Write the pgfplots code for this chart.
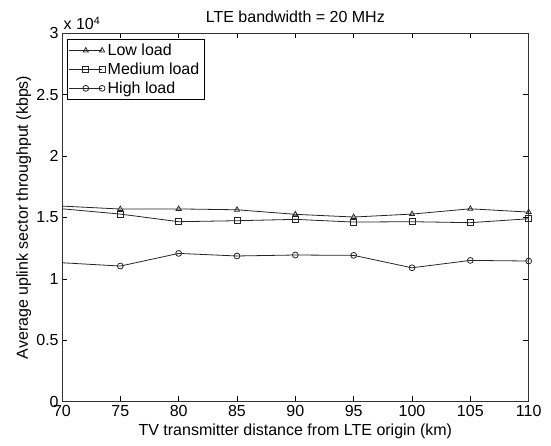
\documentclass[border=0pt]{standalone}
\usepackage{fontspec}
\setmainfont{Liberation Sans}
\usepackage{pgfplots}
\pgfplotsset{compat=1.18}
\usetikzlibrary{calc}
\begin{document}
\begin{tikzpicture}
\begin{axis}[
  scale only axis, width=350pt, height=276.5pt,
  clip mode=individual,
  xmin=70, xmax=110, ymin=0, ymax=30000,
  xtick={70,75,...,110},
  ytick={0,5000,10000,15000,20000,25000,30000},
  yticklabels={0,0.5,1,1.5,2,2.5,3},
  scaled y ticks=false,
  /pgf/number format/assume math mode=true,
  tick align=inside, major tick length=4pt,
  tick style={black, line width=0.5pt},
  axis line style={black!80, line width=0.6pt},
  tick label style={font=\fontsize{12}{14}\selectfont},
  label style={font=\fontsize{12}{14}\selectfont},
  xticklabel style={yshift=1pt},
  yticklabel style={xshift=1pt},
  title={LTE bandwidth = 20 MHz},
  title style={font=\fontsize{12}{14}\selectfont, yshift=-2pt},
  xlabel={TV transmitter distance from LTE origin (km)},
  ylabel={Average uplink sector throughput (kbps)},
  xlabel style={yshift=1pt},
  ylabel style={yshift=-3pt},
  legend style={at={(rel axis cs:0.01,0.985)}, anchor=north west,
    draw=black, line width=0.6pt, font=\fontsize{12}{14}\selectfont,
    inner sep=1.5pt, row sep=0pt, legend cell align=left},
  legend image code/.code={
    \draw[mark repeat=2, mark phase=2] plot coordinates {(0cm,0cm) (0.43cm,0cm) (0.86cm,0cm)};},
  every axis plot/.append style={black!85, line width=0.6pt, mark size=2.2pt},
]
\addplot[mark=triangle, mark indices={2,3,4,5,6,7,8,9}] coordinates
  {(70,15920) (75,15680) (80,15690) (85,15620) (90,15250) (95,15030) (100,15270) (105,15700) (110,15430)};
\addplot[mark=square, mark indices={2,3,4,5,6,7,8,9}] coordinates
  {(70,15700) (75,15270) (80,14650) (85,14730) (90,14840) (95,14620) (100,14650) (105,14570) (110,14890)};
\addplot[mark=o, mark indices={2,3,4,5,6,7,8,9}] coordinates
  {(70,11310) (75,11040) (80,12070) (85,11860) (90,11940) (95,11910) (100,10900) (105,11500) (110,11450)};
\legend{Low load, Medium load, High load}
\node[anchor=south west, font=\fontsize{12}{14}\selectfont, inner sep=0pt] at ($(rel axis cs:0,1)+(1pt,2pt)$) {x 10\textsuperscript{4}};
\end{axis}
\pgfresetboundingbox
\path[use as bounding box] ($(current axis.south west)+(-46.5pt,-33.2pt)$) rectangle ($(current axis.south west)+(366.75pt,301.3pt)$);
\end{tikzpicture}
\end{document}
